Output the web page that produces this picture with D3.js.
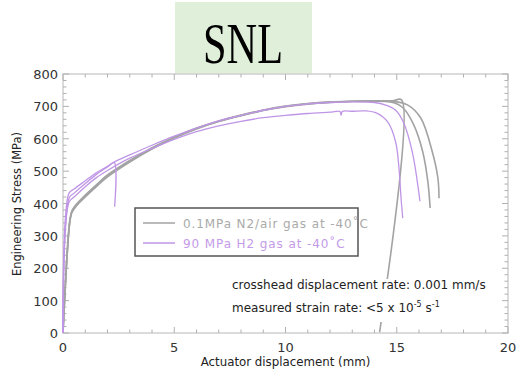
<!DOCTYPE html>
<html>
<head>
<meta charset="utf-8">
<script src="https://cdn.jsdelivr.net/npm/d3@7"></script>
<style>
  body { margin: 0; background: #fff; }
  svg text { font-family: "DejaVu Sans", sans-serif; }
</style>
</head>
<body>
<div id="chart"></div>
<script>
// tick values
const xTicks = [0, 5, 10, 15, 20];
const yTicks = [0, 100, 200, 300, 400, 500, 600, 700, 800];

// 0.1 MPa N2/air runs: [displacement mm, stress MPa]
const n2Run1 = [[0,0],[0.3,340],[0.4,372],[0.6,392],[1,420],[1.5,452],[2,482],[3,528],[4,568],[5,602],[6,630],[7,653],[8,671],[9,687],[10,699],[11,707],[12,712],[13,715],[14,716],[14.7,714],[15.0,708],[15.3,694],[15.77,642],[16.17,559],[16.4,466],[16.5,386]];
const n2Run2 = [[0,0],[0.32,350],[0.42,380],[0.6,398],[1,426],[1.5,458],[2,488],[3,533],[4,572],[5,605],[6,633],[7,655],[8,673],[9,689],[10,701],[11,709],[12,714],[13,716],[14,717],[14.8,716],[15.5,704],[16.08,664],[16.6,559],[16.85,478],[16.9,416]];
const n2Run3 = [[0,0],[0.3,345],[0.4,376],[0.6,395],[1,424],[1.5,456],[2,486],[3,531],[4,570],[5,604],[6,632],[7,654],[8,672],[9,688],[10,700],[11,708],[12,713],[13,716],[14,717],[14.8,717],[15.22,720],[14.23,3]];

// 90 MPa H2 runs
const h2Run1 = [[0,0],[0.27,432],[0.5,445],[1,470],[1.5,495],[2,515],[2.3,528],[3,550],[4,580],[5,608],[6,633],[7,655],[8,672],[9,688],[10,700],[11,708],[12,712],[13,714],[14,712],[14.5,704],[14.95,688],[15.3,651],[15.7,559],[16.0,430],[16.04,407]];
const h2Run2 = [[0,0],[0.27,404],[0.5,420],[1,452],[1.5,480],[2,502],[3,540],[4,570],[5,598],[6,622],[7,640],[8,654],[9,665],[10,672],[11,678],[12,682],[12.45,684],[12.5,673],[12.55,684],[13,685],[13.6,686],[14.1,679],[14.6,651],[14.95,590],[15.1,509],[15.2,410],[15.27,355]];
const h2Run3 = [[0,0],[0.28,418],[0.5,432],[1,462],[1.5,490],[2,513],[2.3,527],[2.32,390]];

const n2Runs = [n2Run1, n2Run2, n2Run3];
const h2Runs = [h2Run1, h2Run2, h2Run3];

const legendLabels = ["0.1MPa N2/air gas at -40˚C", "90 MPa H2 gas at -40˚C"];
const grayColor = "#a3a3a3";
const purpleColor = "#bf95e6";

const W = 520, H = 376;
const margin = { top: 74, right: 12, bottom: 43, left: 63 };
const width = W - margin.left - margin.right;
const height = H - margin.top - margin.bottom;

const svg = d3.select("#chart").append("svg")
    .attr("width", W)
    .attr("height", H);

// SNL title box
svg.append("rect")
    .attr("x", 175).attr("y", 2)
    .attr("width", 137).attr("height", 72)
    .attr("fill", "#e0efda");
svg.append("text")
    .attr("x", 203).attr("y", 63)
    .attr("textLength", 80)
    .attr("lengthAdjust", "spacingAndGlyphs")
    .style("font-family", "'Liberation Serif', serif")
    .style("font-size", "56px")
    .attr("fill", "#000")
    .text("SNL");

const g = svg.append("g")
    .attr("transform", `translate(${margin.left},${margin.top})`);

const x = d3.scaleLinear().domain([0, 20]).range([0, width]);
const y = d3.scaleLinear().domain([0, 800]).range([height, 0]);

// frame
g.append("rect")
    .attr("width", width).attr("height", height)
    .attr("fill", "none")
    .attr("stroke", "#cfcfcf")
    .attr("stroke-width", 1.5);

// inward ticks on all sides
const xMinor = d3.range(0, 21, 1);
const yMinor = d3.range(0, 801, 20);
const tickColor = "#b0b0b0";

xMinor.forEach(v => {
    const len = v % 5 === 0 ? 6 : 3.5;
    g.append("line").attr("x1", x(v)).attr("x2", x(v)).attr("y1", height).attr("y2", height - len).attr("stroke", tickColor);
    g.append("line").attr("x1", x(v)).attr("x2", x(v)).attr("y1", 0).attr("y2", len).attr("stroke", tickColor);
});
yMinor.forEach(v => {
    const len = v % 100 === 0 ? 6 : 3.5;
    g.append("line").attr("y1", y(v)).attr("y2", y(v)).attr("x1", 0).attr("x2", len).attr("stroke", tickColor);
    g.append("line").attr("y1", y(v)).attr("y2", y(v)).attr("x1", width).attr("x2", width - len).attr("stroke", tickColor);
});

// tick labels
g.selectAll(".xlab")
    .data(xTicks)
    .enter().append("text")
    .attr("x", d => x(d))
    .attr("y", height + 19)
    .attr("text-anchor", "middle")
    .style("font-size", "13px")
    .attr("fill", "#333")
    .text(d => d);

g.selectAll(".ylab")
    .data(yTicks)
    .enter().append("text")
    .attr("x", -5)
    .attr("y", d => y(d) + 5)
    .attr("text-anchor", "end")
    .style("font-size", "13px")
    .attr("fill", "#333")
    .text(d => d);

// axis titles
svg.append("text")
    .attr("x", margin.left + x(10))
    .attr("y", 366)
    .attr("text-anchor", "middle")
    .style("font-size", "11.8px")
    .attr("fill", "#222")
    .text("Actuator displacement (mm)");

svg.append("text")
    .attr("transform", `translate(21,204) rotate(-90)`)
    .attr("text-anchor", "middle")
    .style("font-size", "11.5px")
    .attr("fill", "#222")
    .text("Engineering Stress (MPa)");

// curves
const line = d3.line()
    .x(d => x(d[0]))
    .y(d => y(d[1]))
    .curve(d3.curveCatmullRom.alpha(0.5));

g.selectAll(".n2")
    .data(n2Runs)
    .enter().append("path")
    .attr("d", line)
    .attr("fill", "none")
    .attr("stroke", grayColor)
    .attr("stroke-width", 1.6);

g.selectAll(".h2")
    .data(h2Runs)
    .enter().append("path")
    .attr("d", line)
    .attr("fill", "none")
    .attr("stroke", purpleColor)
    .attr("stroke-width", 1.3);

// legend
const legend = svg.append("g");
legend.append("rect")
    .attr("x", 135).attr("y", 208)
    .attr("width", 223).attr("height", 48)
    .attr("fill", "#fff")
    .attr("stroke", "#555")
    .attr("stroke-width", 1.5);

const legendColors = [grayColor, purpleColor];
legendLabels.forEach((label, i) => {
    const ly = 223 + i * 20;
    legend.append("line")
        .attr("x1", 143).attr("x2", 175)
        .attr("y1", ly).attr("y2", ly)
        .attr("stroke", legendColors[i])
        .attr("stroke-width", 1.5);
    legend.append("text")
        .attr("x", 183).attr("y", ly + 4.5)
        .style("font-size", "12px")
        .style("letter-spacing", "0.9px")
        .attr("fill", i === 0 ? "#aaa" : "#c49be8")
        .text(label);
});

// annotation (white backing hides the unloading line)
svg.append("rect")
    .attr("x", 228).attr("y", 279)
    .attr("width", 262).attr("height", 43)
    .attr("fill", "#fff");

svg.append("text")
    .attr("x", 232).attr("y", 289)
    .style("font-size", "12px")
    .attr("fill", "#222")
    .text("crosshead displacement rate: 0.001 mm/s");

const t2 = svg.append("text")
    .attr("x", 232).attr("y", 312)
    .style("font-size", "12px")
    .attr("fill", "#222");
t2.append("tspan").text("measured strain rate: <5 x 10");
t2.append("tspan").attr("dy", -5).style("font-size", "8px").text("-5");
t2.append("tspan").attr("dy", 5).text(" s");
t2.append("tspan").attr("dy", -5).style("font-size", "8px").text("-1");
</script>
</body>
</html>
